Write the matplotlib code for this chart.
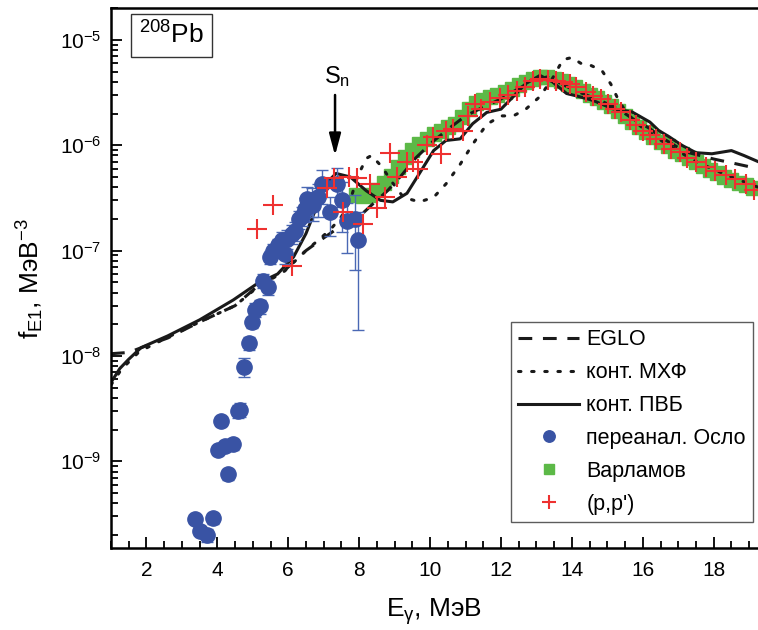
import matplotlib
matplotlib.use("Agg")
import matplotlib.pyplot as plt
from matplotlib.ticker import MultipleLocator, LogLocator, NullFormatter
import numpy as np

plt.rcParams["font.family"] = ["Liberation Sans", "DejaVu Sans"]
plt.rcParams["mathtext.default"] = "regular"

# EGLO (dashed)
eglo_e = [1.0, 1.5, 2.0, 2.6, 3.5, 4.5, 5.1, 5.9, 6.5, 6.9, 7.3, 7.7, 8.0, 8.4, 8.8,
          9.2, 9.6, 10.1, 10.6, 11.0, 11.5, 12.0, 12.4, 12.9, 13.3, 13.6, 13.9, 14.3,
          14.8, 15.3, 15.7, 16.2, 16.5, 17.0, 17.3, 18.0, 18.6, 19.25]
eglo_f = [1.05e-8, 1.08e-8, 1.25e-8, 1.48e-8, 2.1e-8, 3.0e-8, 4.5e-8, 6.5e-8, 1.0e-7,
          1.25e-7, 1.55e-7, 1.85e-7, 2.1e-7, 2.8e-7, 3.7e-7, 5.2e-7, 7.6e-7, 1.1e-6,
          1.5e-6, 1.9e-6, 2.3e-6, 2.75e-6, 3.3e-6, 4.1e-6, 4.45e-6, 4.0e-6, 3.55e-6,
          3.1e-6, 2.66e-6, 2.22e-6, 1.8e-6, 1.44e-6, 1.2e-6, 9.5e-7, 8.5e-7, 7.4e-7,
          6.7e-7, 6.0e-7]

# конт. МХФ (dotted)
mhf_e = [1.0, 1.3, 1.8, 2.5, 3.5, 4.5, 5.1, 5.9, 6.5, 6.9, 7.2, 7.5, 7.75, 7.95, 8.2,
         8.35, 8.65, 8.9, 9.25, 9.7, 10.1, 10.45, 10.85, 11.2, 11.6, 12.0, 12.35, 12.7,
         13.1, 13.45, 13.75, 14.0, 14.25, 14.5, 14.85, 15.1, 15.3, 15.55, 16.0, 16.5,
         17.0, 17.5, 18.0, 18.5, 19.25]
mhf_f = [5.3e-9, 7.5e-9, 1.1e-8, 1.45e-8, 2.1e-8, 3.0e-8, 4.4e-8, 6.4e-8, 1.0e-7,
         1.3e-7, 1.6e-7, 2.1e-7, 3.0e-7, 5.0e-7, 7.5e-7, 8.0e-7, 6.2e-7, 4.6e-7,
         3.2e-7, 2.9e-7, 3.2e-7, 4.3e-7, 6.6e-7, 1.02e-6, 1.58e-6, 1.9e-6, 1.9e-6,
         2.2e-6, 2.9e-6, 4.3e-6, 6.5e-6, 6.8e-6, 6.0e-6, 5.8e-6, 5.1e-6, 3.8e-6,
         2.75e-6, 2.0e-6, 1.45e-6, 1.12e-6, 8.8e-7, 7.0e-7, 5.9e-7, 5.0e-7, 4.0e-7]

# конт. ПВБ (solid)
pvb_e = [1.0, 1.25, 1.5, 1.85, 2.3, 2.6, 3.5, 4.45, 5.1, 5.7, 6.15, 6.5, 6.8, 7.05,
         7.35, 7.75, 8.2, 8.6, 8.95, 9.35, 9.7, 10.1, 10.45, 10.85, 11.2, 11.6, 12.0,
         12.35, 12.7, 13.1, 13.45, 13.85, 14.2, 14.6, 15.15, 15.7, 16.2, 16.45, 16.75,
         17.1, 17.5, 17.95, 18.5, 18.85, 19.25]
pvb_f = [5.6e-9, 7.6e-9, 9.3e-9, 1.2e-8, 1.4e-8, 1.55e-8, 2.2e-8, 3.4e-8, 4.8e-8,
         6.0e-8, 8.7e-8, 1.45e-7, 2.6e-7, 4.3e-7, 5.4e-7, 5.0e-7, 3.7e-7, 3.0e-7,
         2.9e-7, 3.5e-7, 5.4e-7, 8.9e-7, 1.11e-6, 1.15e-6, 1.6e-6, 2.05e-6, 2.2e-6,
         2.9e-6, 3.85e-6, 4.6e-6, 4.0e-6, 3.1e-6, 2.9e-6, 2.66e-6, 2.22e-6, 2.07e-6,
         1.66e-6, 1.38e-6, 1.2e-6, 1.0e-6, 8.5e-7, 8.3e-7, 8.9e-7, 8.0e-7, 7.0e-7]

# переанал. Осло
oslo_e = [3.38, 3.52, 3.70, 3.87, 4.03, 4.10, 4.22, 4.31, 4.44, 4.58, 4.65, 4.74, 4.88,
          4.99, 5.06, 5.21, 5.30, 5.44, 5.49, 5.58, 5.72, 5.82, 5.91, 5.96, 6.10, 6.19,
          6.29, 6.38, 6.47, 6.52, 6.66, 6.71, 6.85, 6.94, 7.18, 7.37, 7.51, 7.65, 7.88,
          7.96]
oslo_f = [2.85e-10, 2.2e-10, 2.0e-10, 2.9e-10, 1.28e-9, 2.4e-9, 1.41e-9, 7.6e-10,
          1.46e-9, 3.0e-9, 3.1e-9, 7.9e-9, 1.33e-8, 2.1e-8, 2.75e-8, 2.95e-8, 5.2e-8,
          4.5e-8, 8.7e-8, 1.0e-7, 1.12e-7, 1.26e-7, 9.3e-8, 1.3e-7, 1.45e-7, 1.55e-7,
          2.0e-7, 2.14e-7, 2.5e-7, 3.1e-7, 3.0e-7, 2.7e-7, 3.2e-7, 4.3e-7, 2.3e-7,
          4.3e-7, 3.0e-7, 1.9e-7, 2.0e-7, 1.25e-7]
oslo_rel = [0.08, 0.1, 0.15, 0.12, 0.1, 0.1, 0.1, 0.12, 0.12, 0.15, 0.15, 0.2, 0.15,
            0.12, 0.15, 0.15, 0.15, 0.15, 0.15, 0.15, 0.15, 0.2, 0.2, 0.2, 0.2, 0.2,
            0.2, 0.2, 0.25, 0.3, 0.3, 0.3, 0.35, 0.35, 0.4, 0.4, 0.5, 0.5, 0.67, 0.86]

# Варламов
varl_e = [7.9, 8.1, 8.3, 8.5, 8.7, 8.9, 9.1, 9.3, 9.5, 9.7, 9.9, 10.1, 10.3, 10.5, 10.7,
          10.9, 11.1, 11.3, 11.5, 11.7, 11.9, 12.1, 12.3, 12.5, 12.7, 12.9, 13.1, 13.3,
          13.5, 13.7, 13.9, 14.1, 14.3, 14.5, 14.7, 14.9, 15.1, 15.3, 15.5, 15.7, 15.9,
          16.1, 16.3, 16.5, 16.7, 16.9, 17.1, 17.3, 17.5, 17.7, 17.9, 18.1, 18.3, 18.5,
          18.7, 18.9, 19.1]
varl_f = [3.4e-7, 3.3e-7, 3.4e-7, 3.8e-7, 4.4e-7, 5.1e-7, 6.2e-7, 7.8e-7, 9.0e-7,
          1.03e-6, 1.15e-6, 1.28e-6, 1.38e-6, 1.48e-6, 1.6e-6, 1.85e-6, 2.2e-6, 2.5e-6,
          2.7e-6, 2.85e-6, 3.0e-6, 3.2e-6, 3.45e-6, 3.75e-6, 4.0e-6, 4.25e-6, 4.4e-6,
          4.4e-6, 4.3e-6, 4.1e-6, 3.85e-6, 3.55e-6, 3.25e-6, 3.0e-6, 2.8e-6, 2.6e-6,
          2.35e-6, 2.1e-6, 1.9e-6, 1.68e-6, 1.5e-6, 1.35e-6, 1.2e-6, 1.08e-6, 9.8e-7,
          8.9e-7, 8.2e-7, 7.5e-7, 6.9e-7, 6.3e-7, 5.8e-7, 5.4e-7, 5.0e-7, 4.7e-7,
          4.4e-7, 4.2e-7, 3.9e-7]

# (p,p')
pp_e = [5.11, 5.58, 6.10, 7.08, 7.30, 7.55, 7.72, 7.95, 8.12, 8.32, 8.49, 8.73, 8.88,
        9.06, 9.34, 9.52, 9.67, 9.90, 10.09, 10.32, 10.46, 10.65, 10.93, 11.07, 11.26,
        11.45, 11.68, 11.97, 12.20, 12.44, 12.67, 12.90, 13.09, 13.33, 13.56, 13.75,
        13.94, 14.13, 14.41, 14.59, 14.83, 15.02, 15.21, 15.39, 15.63, 15.82, 16.00,
        16.19, 16.38, 16.6, 16.8, 17.04, 17.25, 17.5, 17.79, 18.05, 18.35, 18.6, 18.92,
        19.15]
pp_f = [1.6e-7, 2.7e-7, 7.1e-8, 3.9e-7, 4.9e-7, 2.3e-7, 5.0e-7, 4.9e-7, 1.8e-7, 4.3e-7,
        2.55e-7, 3.2e-7, 8.4e-7, 5.0e-7, 6.9e-7, 6.9e-7, 6.0e-7, 1.0e-6, 1.2e-6, 8.3e-7,
        1.38e-6, 1.44e-6, 1.38e-6, 1.9e-6, 2.46e-6, 2.2e-6, 2.6e-6, 2.8e-6, 3.0e-6,
        3.3e-6, 3.55e-6, 4.1e-6, 4.25e-6, 4.2e-6, 4.1e-6, 4.0e-6, 3.85e-6, 3.55e-6,
        3.2e-6, 2.95e-6, 2.75e-6, 2.45e-6, 2.2e-6, 2.05e-6, 1.72e-6, 1.55e-6, 1.38e-6,
        1.24e-6, 1.15e-6, 1.02e-6, 9.3e-7, 8.6e-7, 7.6e-7, 6.9e-7, 6.2e-7, 5.7e-7,
        5.2e-7, 4.8e-7, 4.3e-7, 3.8e-7]

y_ticks = [1e-9, 1e-8, 1e-7, 1e-6, 1e-5]
s_n = 7.32

fig = plt.figure(figsize=(7.58, 6.30), dpi=100)
ax = fig.add_axes([0.1464, 0.130, 0.8536, 0.857])

blue = "#3953a4"
green = "#5cb947"
red = "#ee3130"

ax.plot(varl_e, varl_f, "s", color=green, ms=10.5, mec=green, zorder=1, label="Варламов")
ax.plot(eglo_e, eglo_f, color="#1a1a1a", lw=2.2, ls=(0, (4.5, 3.5)), zorder=2, label="EGLO")
ax.plot(mhf_e, mhf_f, color="#1a1a1a", lw=2.2, ls=(0, (0.8, 3.5)), dash_capstyle="round",
        zorder=2, label="конт. МХФ")
ax.plot(pvb_e, pvb_f, color="#1a1a1a", lw=2.2, zorder=2, label="конт. ПВБ")

oslo_err = np.array(oslo_f) * np.array(oslo_rel)
ax.errorbar(oslo_e, oslo_f, yerr=oslo_err, fmt="none", ecolor="#4a68b4", elinewidth=1,
            capsize=4.5, capthick=1, zorder=3)
ax.plot(oslo_e, oslo_f, "o", color=blue, ms=11, zorder=4, label="переанал. Осло")
ax.plot(pp_e, pp_f, "+", color=red, ms=14, mew=1.5, zorder=5, label="(p,p')")

ax.set_yscale("log")
ax.set_xlim(1, 19.25)
ax.set_ylim(1.5e-10, 2.0e-5)

ax.xaxis.set_major_locator(MultipleLocator(2))
ax.xaxis.set_minor_locator(MultipleLocator(0.5))
ax.set_yticks(y_ticks)
ax.yaxis.set_minor_locator(LogLocator(base=10, subs=np.arange(2, 10), numticks=20))
ax.yaxis.set_minor_formatter(NullFormatter())
ax.tick_params(which="both", direction="in", top=False, right=False, width=1.3, labelsize=15)
ax.tick_params(which="major", length=8)
ax.tick_params(which="minor", length=5)
ax.tick_params(axis="x", pad=9)
ax.tick_params(axis="y", pad=7)

for side in ["left", "bottom", "top"]:
    ax.spines[side].set_linewidth(1.8)
ax.spines["right"].set_visible(False)

ax.set_xlabel("E$_{\\gamma}$, МэВ", fontsize=19, labelpad=12)
ax.set_ylabel("f$_{E1}$, МэВ$^{-3}$", fontsize=19, labelpad=10)

ax.text(0.043, 0.975, "$^{208}$Pb", transform=ax.transAxes, fontsize=19, va="top", ha="left",
        bbox=dict(boxstyle="square,pad=0.3", fc="white", ec="#333333", lw=1))

ax.annotate("", xy=(s_n, 8.0e-7), xytext=(s_n, 3.0e-6),
            arrowprops=dict(arrowstyle="-|>,head_length=1.3,head_width=0.35", color="black",
                            lw=1.8, shrinkA=0, shrinkB=0))
ax.text(s_n + 0.05, 3.4e-6, "S$_n$", fontsize=17, ha="center", va="bottom")

handles, labels = ax.get_legend_handles_labels()
order = ["EGLO", "конт. МХФ", "конт. ПВБ", "переанал. Осло", "Варламов", "(p,p')"]
hmap = dict(zip(labels, handles))
leg = ax.legend([hmap[k] for k in order], order, loc="lower left",
                bbox_to_anchor=(0.618, 0.048), fontsize=15.5, frameon=True, fancybox=False,
                edgecolor="#333333", handlelength=2.8, handletextpad=0.35, labelspacing=0.55,
                borderpad=0.35, borderaxespad=0, numpoints=1, markerscale=0.75)
leg.get_frame().set_linewidth(1)

fig.savefig("out.png", dpi=100)
